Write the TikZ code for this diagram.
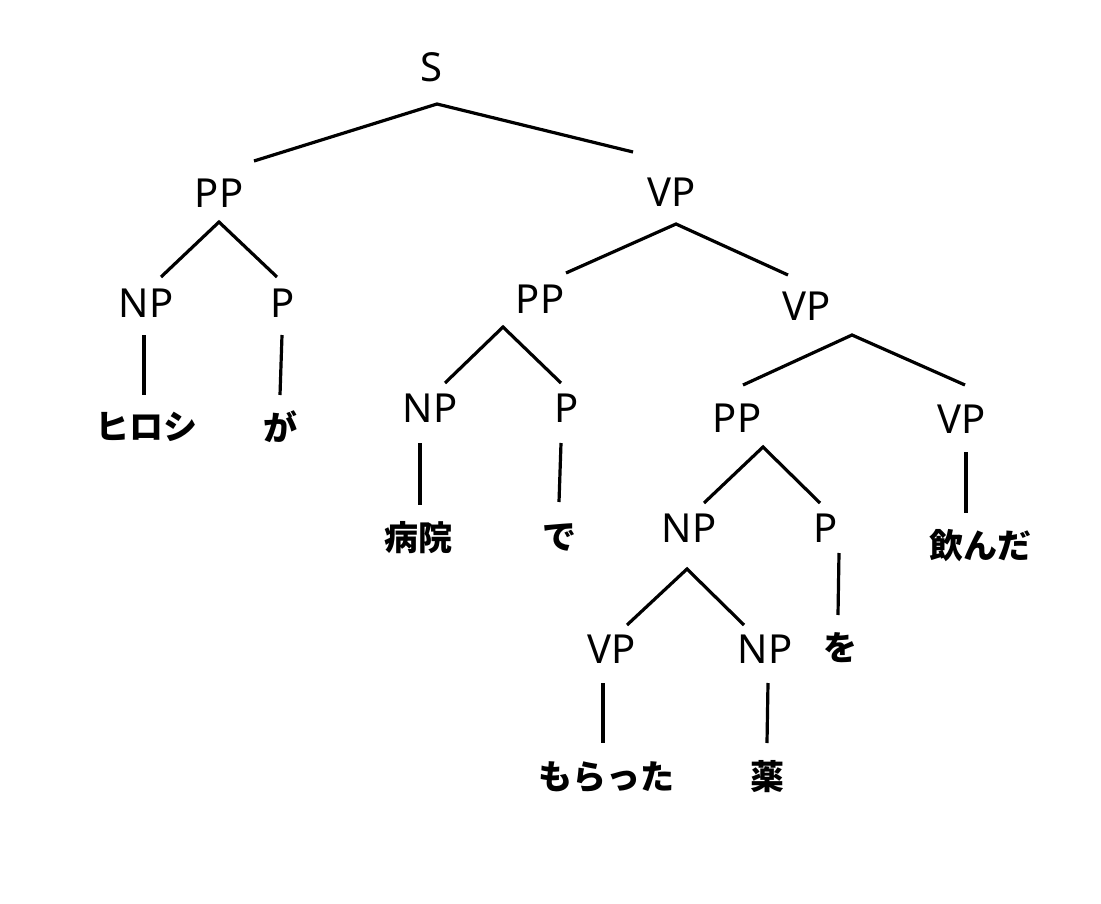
\documentclass[tikz,border=0pt]{standalone}
\usepackage{fontspec}
\newfontfamily\labfont{Noto Sans}
\newfontfamily\jpfont{Noto Sans CJK JP}
\tikzset{
  cat/.style={font=\labfont\fontsize{40}{40}\selectfont, inner sep=0pt, anchor=base},
  word/.style={font=\jpfont\bfseries\fontsize{34}{34}\selectfont, inner sep=0pt},
  branch/.style={line width=3.2pt}
}

\begin{document}
\begin{tikzpicture}[x=1pt, y=-1pt]
      \useasboundingbox[fill=white] (0,0) rectangle (1101,904);

      % categories
      \node[cat] (s) at (431,82) {S};
      \node[cat] (pp1) at (219,208) {PP};
      \node[cat] (vp1) at (672,207) {VP};
      \node[cat] (np1) at (146,317) {NP};
      \node[cat] (p1) at (283,317) {P};
      \node[cat] (pp2) at (540,313) {PP};
      \node[cat] (vp2) at (807,320) {VP};
      \node[cat] (np2) at (430,422) {NP};
      \node[cat] (p2) at (567,422) {P};
      \node[cat] (pp3) at (737,432) {PP};
      \node[cat] (vp3) at (962,433) {VP};
      \node[cat] (np3) at (689,542) {NP};
      \node[cat] (p3) at (826,542) {P};
      \node[cat] (vp4) at (612,663) {VP};
      \node[cat] (np4) at (765,663) {NP};

      % words
      \node[word] (w1) at (146,427) {ヒロシ};
      \node[word] (w2) at (280,427) {が};
      \node[word] (w3) at (418,538) {病院};
      \node[word] (w4) at (559,537) {で};
      \node[word] (w5) at (980,546) {飲んだ};
      \node[word] (w6) at (840,648) {を};
      \node[word] (w7) at (606,777) {もらった};
      \node[word] (w8) at (767,777) {薬};

      % branch ends
      \coordinate (s-a) at (437,104);
      \coordinate (pp1-t) at (254,161);
      \coordinate (vp1-t) at (633,152);
      \coordinate (pp1-a) at (219,222);
      \coordinate (np1-t) at (161,277);
      \coordinate (p1-t) at (277,277);
      \coordinate (np1-b) at (144,335);
      \coordinate (w1-t) at (144,395);
      \coordinate (p1-b) at (282,335);
      \coordinate (w2-t) at (280,395);
      \coordinate (vp1-a) at (676,224);
      \coordinate (pp2-t) at (566,273);
      \coordinate (vp2-t) at (788,275);
      \coordinate (pp2-a) at (503,327);
      \coordinate (np2-t) at (445,383);
      \coordinate (p2-t) at (561,383);
      \coordinate (vp2-a) at (852,335);
      \coordinate (pp3-t) at (743,385);
      \coordinate (vp3-t) at (965,385);
      \coordinate (np2-b) at (420,443);
      \coordinate (w3-t) at (420,505);
      \coordinate (p2-b) at (561,443);
      \coordinate (w4-t) at (559,502);
      \coordinate (pp3-a) at (763,447);
      \coordinate (np3-t) at (704,503);
      \coordinate (p3-t) at (820,503);
      \coordinate (vp3-b) at (966,452);
      \coordinate (w5-t) at (966,513);
      \coordinate (np3-a) at (687,569);
      \coordinate (vp4-t) at (627,625);
      \coordinate (np4-t) at (744,625);
      \coordinate (p3-b) at (839,553);
      \coordinate (w6-t) at (838,615);
      \coordinate (vp4-b) at (603,683);
      \coordinate (w7-t) at (603,743);
      \coordinate (np4-b) at (768,683);
      \coordinate (w8-t) at (767,743);

      \draw[branch] (pp1-t) -- (s-a) -- (vp1-t);
      \draw[branch] (np1-t) -- (pp1-a) -- (p1-t);
      \draw[branch] (pp2-t) -- (vp1-a) -- (vp2-t);
      \draw[branch] (np2-t) -- (pp2-a) -- (p2-t);
      \draw[branch] (pp3-t) -- (vp2-a) -- (vp3-t);
      \draw[branch] (np3-t) -- (pp3-a) -- (p3-t);
      \draw[branch] (vp4-t) -- (np3-a) -- (np4-t);
      \foreach \a/\b in {np1-b/w1-t, p1-b/w2-t, np2-b/w3-t, p2-b/w4-t,
                         vp3-b/w5-t, p3-b/w6-t, vp4-b/w7-t, np4-b/w8-t}
        \draw[branch] (\a) -- (\b);
    \end{tikzpicture}
\end{document}
